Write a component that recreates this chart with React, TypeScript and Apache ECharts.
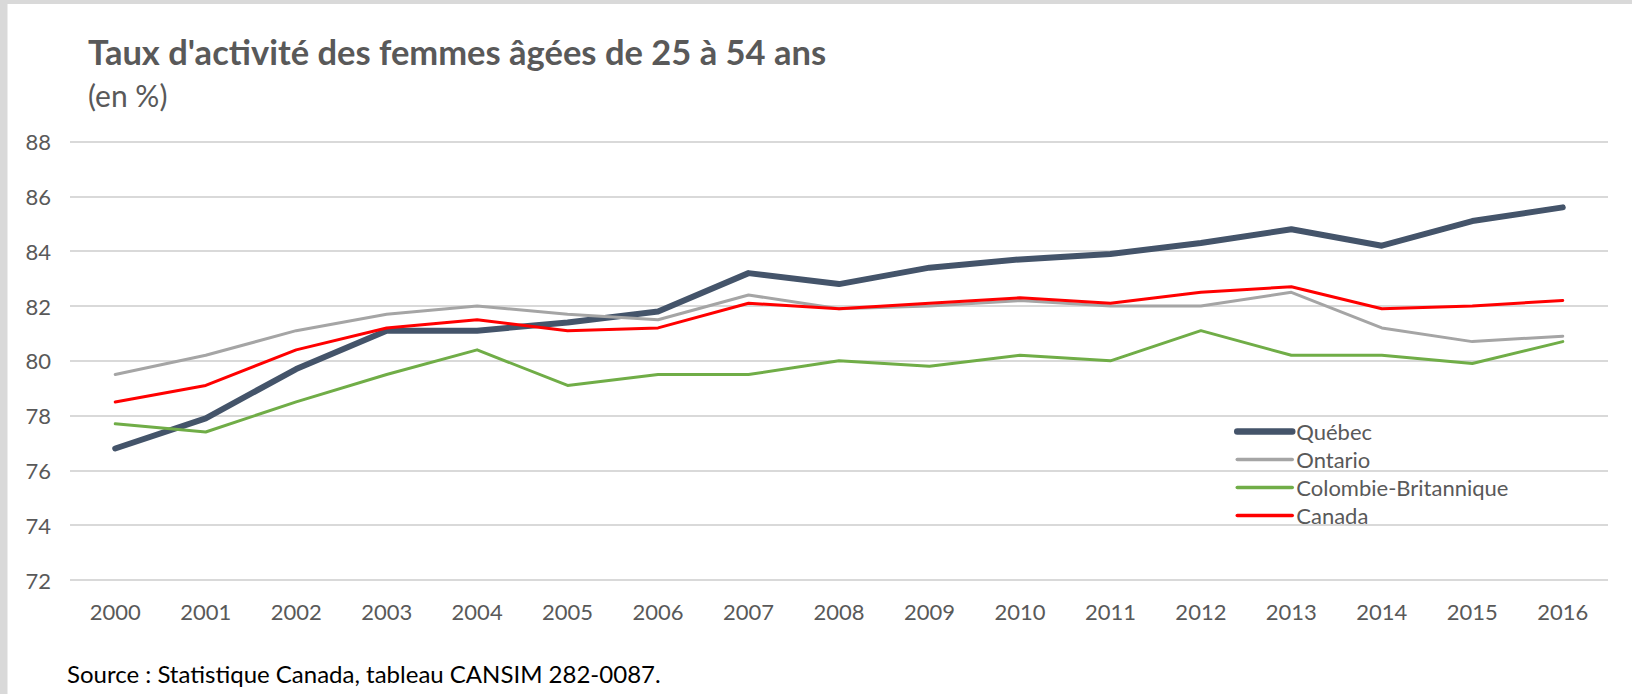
import React, { useEffect, useRef } from "react";
import * as echarts from "echarts";

const years = ["2000","2001","2002","2003","2004","2005","2006","2007","2008","2009","2010","2011","2012","2013","2014","2015","2016"];
const quebec = [76.8, 77.9, 79.7, 81.1, 81.1, 81.4, 81.8, 83.2, 82.8, 83.4, 83.7, 83.9, 84.3, 84.8, 84.2, 85.1, 85.6];
const ontario = [79.5, 80.2, 81.1, 81.7, 82.0, 81.7, 81.5, 82.4, 81.9, 82.0, 82.2, 82.0, 82.0, 82.5, 81.2, 80.7, 80.9];
const colombieBritannique = [77.7, 77.4, 78.5, 79.5, 80.4, 79.1, 79.5, 79.5, 80.0, 79.8, 80.2, 80.0, 81.1, 80.2, 80.2, 79.9, 80.7];
const canada = [78.5, 79.1, 80.4, 81.2, 81.5, 81.1, 81.2, 82.1, 81.9, 82.1, 82.3, 82.1, 82.5, 82.7, 81.9, 82.0, 82.2];

const titleText = "Taux d'activité des femmes âgées de 25 à 54 ans";
const subtitleText = "(en %)";
const sourceText = "Source : Statistique Canada, tableau CANSIM 282-0087.";

const FONT = "Lato";
const GREY_TEXT = "#595959";

export default function App() {
  const ref = useRef<HTMLDivElement>(null);
  useEffect(() => {
    document.body.style.margin = "0";
    const chart = echarts.init(ref.current!, null, { renderer: "svg" });
    chart.setOption({
      animation: false,
      backgroundColor: "#ffffff",
      textStyle: { fontFamily: FONT },
      graphic: [
        { type: "rect", left: 0, top: 0, shape: { width: 1632, height: 4 }, style: { fill: "#D9D9D9" }, z: 0 },
        { type: "rect", left: 0, top: 0, shape: { width: 7.5, height: 694 }, style: { fill: "#D9D9D9" }, z: 0 },
        {
          type: "text", x: 88, y: 51,
          style: { text: titleText, font: `bold 34.5px ${FONT}`, fill: GREY_TEXT, verticalAlign: "middle", align: "left" },
        },
        {
          type: "text", x: 88, y: 95,
          style: { text: subtitleText, font: `30px ${FONT}`, fill: GREY_TEXT, verticalAlign: "middle", align: "left" },
        },
        {
          type: "text", x: 67, y: 673,
          style: { text: sourceText, font: `24px ${FONT}`, fill: "#000000", verticalAlign: "middle", align: "left" },
        },
      ],
      grid: { left: 70, right: 24, top: 141.6, bottom: 114, containLabel: false },
      legend: {
        orient: "vertical",
        left: 1234,
        top: 420.5,
        padding: 0,
        itemWidth: 55,
        itemHeight: 14,
        itemGap: 6,
        itemStyle: { opacity: 0 },
        textStyle: { fontFamily: FONT, fontSize: 22, color: GREY_TEXT, padding: [0, 0, 0, -1] },
        data: [
          { name: "Québec", lineStyle: { width: 6.5, cap: "round" } },
          { name: "Ontario", lineStyle: { width: 3.5 } },
          { name: "Colombie-Britannique", lineStyle: { width: 3.5 } },
          { name: "Canada", lineStyle: { width: 3.5 } },
        ],
      },
      xAxis: {
        type: "category",
        data: years,
        boundaryGap: true,
        axisLine: { show: false },
        axisTick: { show: false },
        axisLabel: { color: GREY_TEXT, fontFamily: FONT, fontSize: 22, margin: 20 },
      },
      yAxis: {
        type: "value",
        min: 72,
        max: 88,
        interval: 2,
        axisLine: { show: false },
        axisTick: { show: false },
        axisLabel: { color: GREY_TEXT, fontFamily: FONT, fontSize: 22, margin: 19 },
        splitLine: { lineStyle: { color: "#D9D9D9", width: 2 } },
      },
      series: [
        {
          name: "Québec", type: "line", data: quebec, symbol: "none",
          lineStyle: { color: "#44546A", width: 6, cap: "round", join: "round" },
          itemStyle: { color: "#44546A" },
        },
        {
          name: "Ontario", type: "line", data: ontario, symbol: "none",
          lineStyle: { color: "#A5A5A5", width: 3, cap: "round", join: "round" },
          itemStyle: { color: "#A5A5A5" },
        },
        {
          name: "Colombie-Britannique", type: "line", data: colombieBritannique, symbol: "none",
          lineStyle: { color: "#70AD47", width: 3, cap: "round", join: "round" },
          itemStyle: { color: "#70AD47" },
        },
        {
          name: "Canada", type: "line", data: canada, symbol: "none",
          lineStyle: { color: "#FF0000", width: 3, cap: "round", join: "round" },
          itemStyle: { color: "#FF0000" },
        },
      ],
    });
    return () => chart.dispose();
  }, []);
  return <div ref={ref} style={{ width: 1632, height: 694 }} />;
}
